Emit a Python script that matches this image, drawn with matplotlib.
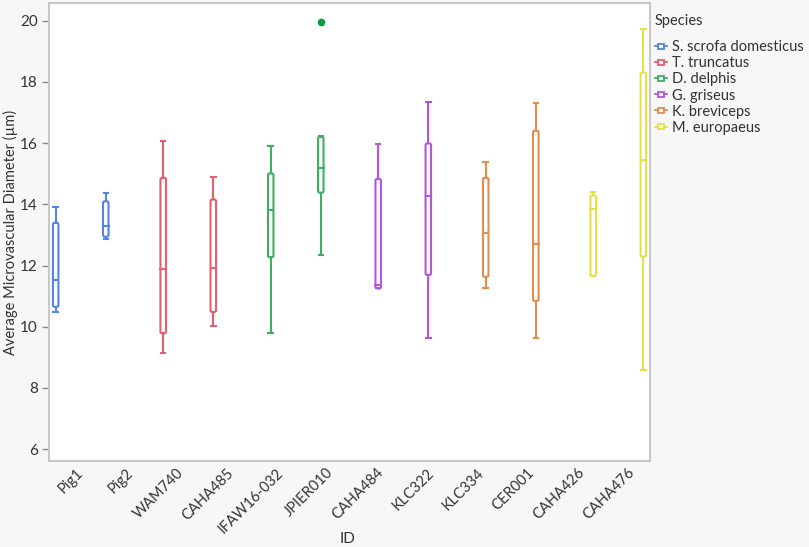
import matplotlib
matplotlib.use("Agg")
import matplotlib.pyplot as plt
from matplotlib.patches import FancyBboxPatch, Rectangle
from matplotlib.lines import Line2D
from matplotlib.legend_handler import HandlerBase
from matplotlib.transforms import ScaledTranslation

plt.rcParams['font.family'] = ['Lato', 'DejaVu Sans']

# ---------------- data ----------------
ids = ['Pig1', 'Pig2', 'WAM740', 'CAHA485', 'IFAW16-032', 'JPIER010',
       'CAHA484', 'KLC322', 'KLC334', 'CER001', 'CAHA426', 'CAHA476']
species = ['S. scrofa domesticus', 'T. truncatus', 'D. delphis',
           'G. griseus', 'K. breviceps', 'M. europaeus']
species_idx = [0, 0, 1, 1, 2, 2, 3, 3, 4, 4, 5, 5]
species_colors = ['#5585dc', '#e45f70', '#3fae63', '#b455dc', '#e08d50', '#e2e246']

whislo = [10.49, 12.86, 9.13, 10.03, 9.78, 12.34, 11.25, 9.62, 11.25, 9.62, 11.66, 8.59]
q1     = [10.65, 12.94, 9.78, 10.48, 12.27, 14.38, 11.25, 11.69, 11.63, 10.84, 11.66, 12.29]
med    = [11.53, 13.29, 11.90, 11.91, 13.81, 15.20, 11.36, 14.28, 13.05, 12.70, 13.84, 15.45]
q3     = [13.40, 14.10, 14.87, 14.16, 15.01, 16.20, 14.83, 15.99, 14.87, 16.41, 14.29, 18.31]
whishi = [13.90, 14.36, 16.08, 14.88, 15.91, 16.23, 15.96, 17.35, 15.39, 17.30, 14.39, 19.72]
outlier_id = ['JPIER010']
outlier_val = [19.95]
outlier_color = '#0c9a40'

yticks = [6, 8, 10, 12, 14, 16, 18, 20]

# ---------------- figure ----------------
fig = plt.figure(figsize=(8.09, 5.47), dpi=100)
fig.patch.set_facecolor('#f7f7f7')
ax = fig.add_axes([49 / 809, 1 - 461 / 547, 601 / 809, 458 / 547])
ax.set_facecolor('white')
ax.set_xlim(-0.5, len(ids) - 0.5)
ax.set_ylim(5.61, 20.58)

n_sp = len(species)
slot = 0.88 / n_sp
box_w = 0.11
cap_w = 0.09
lw = 1.5
asp = (601 / 12) / (458 / (20.58 - 5.61))

for i, name in enumerate(ids):
    s = species_idx[i]
    c = species_colors[s]
    x = i + (s - (n_sp - 1) / 2) * slot
    bp = FancyBboxPatch((x - box_w / 2, q1[i]), box_w, q3[i] - q1[i],
                        boxstyle="round,pad=0,rounding_size=0.035",
                        mutation_aspect=asp, facecolor='none',
                        edgecolor=c, linewidth=lw, zorder=3)
    ax.add_patch(bp)
    ax.plot([x - box_w / 2, x + box_w / 2], [med[i], med[i]], color=c, lw=lw, zorder=3)
    ax.plot([x, x], [q3[i], whishi[i]], color=c, lw=lw, zorder=3)
    ax.plot([x, x], [whislo[i], q1[i]], color=c, lw=lw, zorder=3)
    ax.plot([x - cap_w / 2, x + cap_w / 2], [whishi[i], whishi[i]], color=c, lw=lw, zorder=3)
    ax.plot([x - cap_w / 2, x + cap_w / 2], [whislo[i], whislo[i]], color=c, lw=lw, zorder=3)

for oid, ov in zip(outlier_id, outlier_val):
    i = ids.index(oid)
    s = species_idx[i]
    x = i + (s - (n_sp - 1) / 2) * slot
    ax.plot([x], [ov], 'o', color=outlier_color, markersize=4.5, zorder=4)

for sp in ax.spines.values():
    sp.set_color('#c8c8c8')
    sp.set_linewidth(1.5)
ax.set_yticks(yticks)
ax.set_yticklabels([str(v) for v in yticks])
ax.tick_params(axis='y', length=5, width=1, color='#888888', labelsize=11,
               labelcolor='#333333', pad=3)
ax.set_xticks(range(len(ids)))
ax.set_xticklabels(ids, rotation=45, ha='right', va='center', rotation_mode='anchor')
ax.tick_params(axis='x', length=0, labelsize=10.5, labelcolor='#333333', pad=7)
shift = ScaledTranslation(7 / 100, 0, fig.dpi_scale_trans)
for lab in ax.get_xticklabels():
    lab.set_transform(lab.get_transform() + shift)

ax.set_ylabel('Average Microvascular Diameter (µm)', fontsize=10.5, color='#333333')
ax.yaxis.set_label_coords(-0.052, 0.5)
ax.set_xlabel('ID', fontsize=11, color='#333333')
ax.xaxis.set_label_coords(0.496, -0.155)


class BoxHandler(HandlerBase):
    def create_artists(self, legend, orig_handle, xdescent, ydescent,
                       width, height, fontsize, trans):
        c = orig_handle.get_color()
        cy = height / 2 - ydescent
        bw = width * 0.5
        bh = height * 0.5
        x0 = -xdescent + (width - bw) / 2
        r = Rectangle((x0, cy - bh / 2), bw, bh, facecolor='none', edgecolor=c,
                      lw=1.3, transform=trans)
        l1 = Line2D([-xdescent, x0], [cy, cy], color=c, lw=1.3, transform=trans)
        l2 = Line2D([x0 + bw, -xdescent + width], [cy, cy], color=c, lw=1.3, transform=trans)
        return [r, l1, l2]


handles = [Line2D([], [], color=c) for c in species_colors]
leg = fig.legend(handles, species, loc='upper left',
                 bbox_to_anchor=(652 / 809, 1 - 11 / 547), frameon=False,
                 title='Species', fontsize=10.5, title_fontsize=10.5,
                 handler_map={Line2D: BoxHandler()},
                 handlelength=0.85, handletextpad=0.35, labelspacing=0.14,
                 borderaxespad=0, borderpad=0.2)
leg._legend_box.align = 'left'
leg._legend_box.sep = 9
leg._legend_handle_box.pad = 0
for t in leg.get_texts():
    t.set_color('#333333')
leg.get_title().set_color('#333333')

fig.savefig('out.png', dpi=100, facecolor=fig.get_facecolor())
